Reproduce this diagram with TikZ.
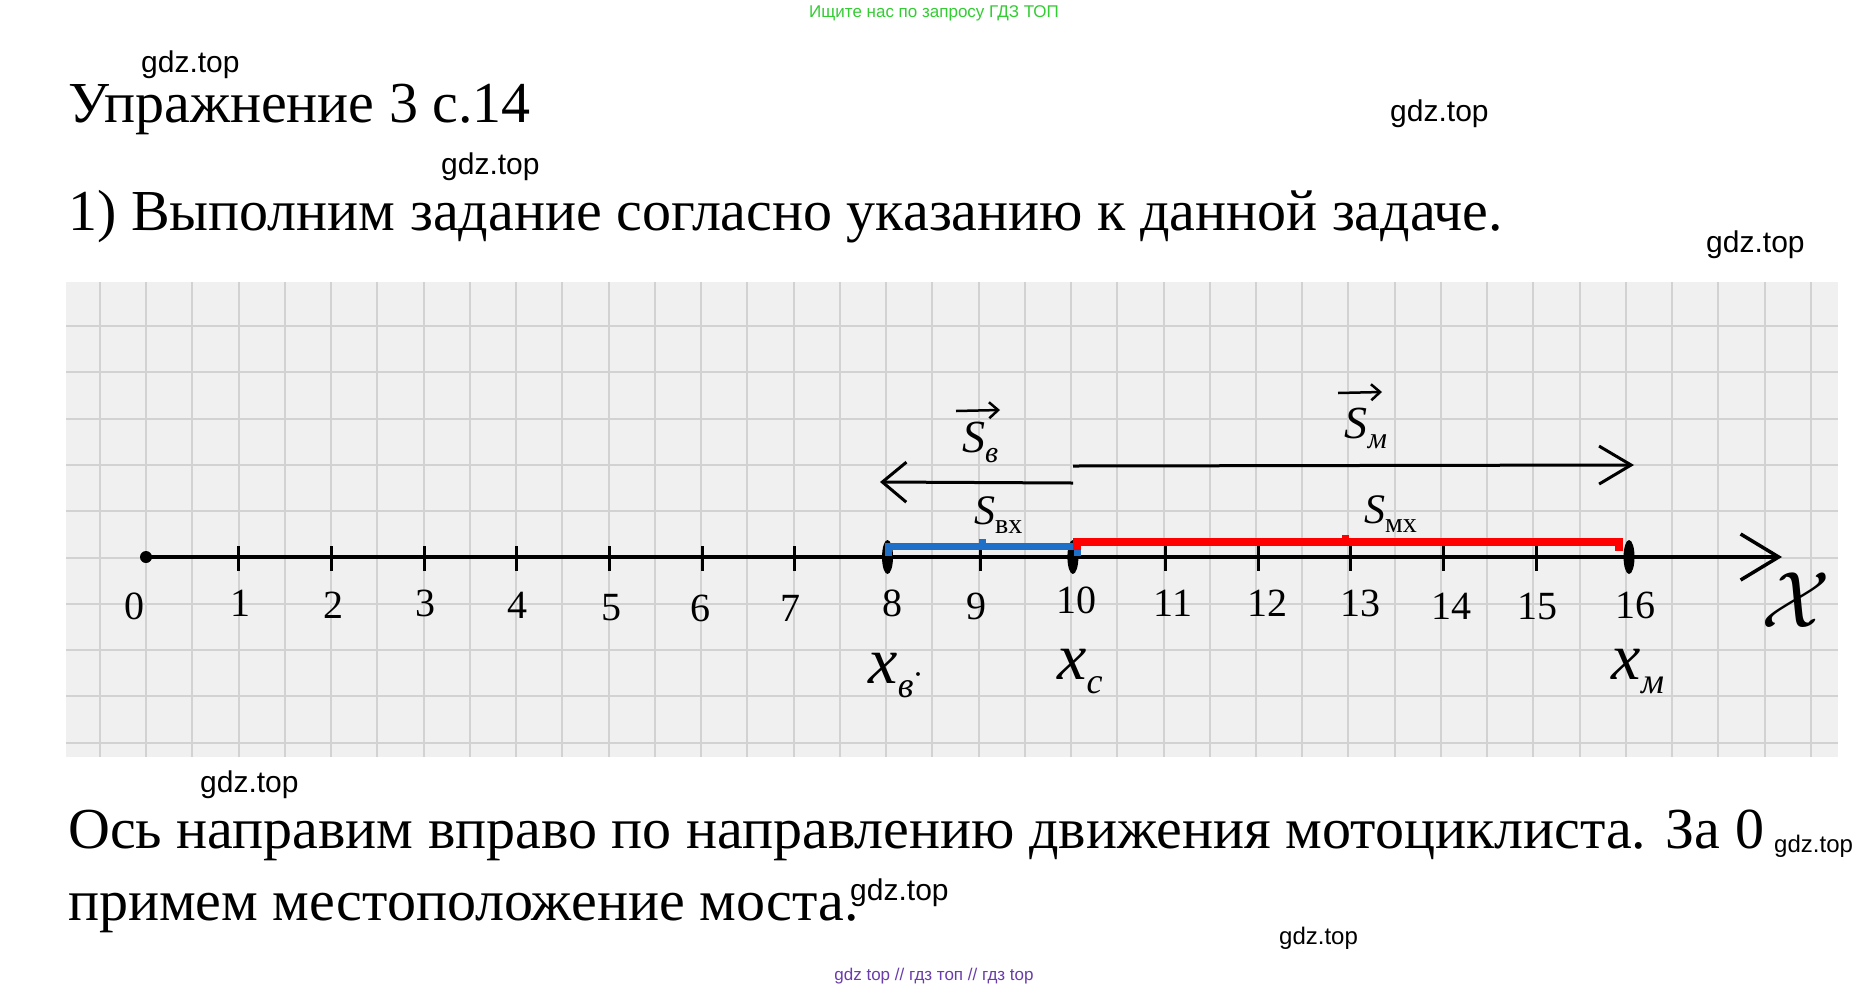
\RequirePackage{fix-cm}
\documentclass[tikz,border=0pt]{standalone}
\usepackage{fontspec}
\setmainfont{Liberation Serif}
\newfontfamily\wmfont{Liberation Sans}
\usetikzlibrary{arrows.meta}
\definecolor{paper}{HTML}{F0F0F0}
\definecolor{gridc}{HTML}{D2D2D2}
\definecolor{wmgreen}{HTML}{33CC33}
\definecolor{wmpurple}{HTML}{6A3DAA}
\definecolor{segblue}{HTML}{1E6FC8}
\definecolor{segred}{HTML}{FF0000}
\newcommand\fsz[1]{\fontsize{#1}{#1}\selectfont}
\begin{document}
\begin{tikzpicture}[x=1pt,y=-1pt,
  wm/.style={font=\wmfont\fsz{30}, anchor=base west, inner sep=0pt},
  wmsmall/.style={font=\wmfont\fsz{24}, anchor=base west, inner sep=0pt},
  body/.style={font=\fsz{58}, anchor=base west, inner sep=0pt},
  num/.style={font=\fsz{40}, inner sep=0pt},
  hand/.style={line width=3.5pt, black},
  vecarrow/.style={line width=2.5pt, -{Straight Barb[length=9pt,width=16pt,line width=2.5pt]}},
  gridline/.style={gridc, line width=2pt}]
\fill[white] (0,0) rectangle (1871,989);
\useasboundingbox (0,0) rectangle (1871,989);
% paper with grid
\fill[paper] (66,282) rectangle (1838,757);
\foreach \k in {0,...,37} \draw[gridline] ({100+46.24*\k},282) -- ({100+46.24*\k},757);
\foreach \k in {0,...,9} \draw[gridline] (66,{326+46.3*\k}) -- (1838,{326+46.3*\k});
% axis
\coordinate (o) at (146,557);
\coordinate (xend) at (1782,557);
\draw[hand, -{Straight Barb[length=38pt,width=46pt,line width=3.5pt]}] (o) -- (xend);
\fill (o) circle (6);
\foreach \k in {1,...,15} \draw[line width=3pt] ({146+92.69*\k},546) -- ({146+92.69*\k},571);
\foreach \k in {8,10,16} \fill ({146+92.69*\k},557) ellipse (5.5 and 17);
% numbers
\foreach \k/\xx/\yy in {0/134/606,1/240/603,2/333/605,3/425/603,4/517/605,5/611/608,6/700/608,7/790/608,8/892/603,9/976/606,10/1076/600,11/1173/603,12/1267/603,13/1360/603,14/1451/606,15/1537/606,16/1635/605}
  \node[num] (n\k) at (\xx,\yy) {\k};
% segments
\draw[segblue, line width=7pt] (888,556) -- (888,546) -- (1077,546) -- (1077,556);
\fill[segblue] (979,539) rectangle (986,546);
\draw[segred, line width=8pt] (1077,550) -- (1077,542) -- (1619,542) -- (1619,551);
\fill[segred] (1342,535) rectangle (1349,542);
% displacement vectors
\coordinate (va) at (1073,483);
\coordinate (vb) at (880,482);
\draw[line width=3pt, -{Straight Barb[length=24pt,width=40pt,line width=3pt]}] (va) -- (vb);
\coordinate (ma) at (1073,466);
\coordinate (mb) at (1634,465);
\draw[line width=3pt, -{Straight Barb[length=32pt,width=38pt,line width=3pt]}] (ma) -- (mb);
% labels
\node[font=\fsz{46}\itshape, inner sep=0pt] (sv) at (980,442) {S\raisebox{-10pt}{\fsz{30}в}};
\coordinate (sva) at (956,411);
\coordinate (svb) at (1000,410);
\draw[vecarrow] (sva) -- (svb);
\node[font=\fsz{46}\itshape, inner sep=0pt] (sm) at (1366,428) {S\raisebox{-10pt}{\fsz{30}м}};
\coordinate (sma) at (1338,393);
\coordinate (smb) at (1382,392);
\draw[vecarrow] (sma) -- (smb);
\node[anchor=base west, inner sep=0pt] (sbx) at (974,524) {\fsz{42}\itshape S\upshape\fsz{28}\raisebox{-9pt}{вх}};
\node[anchor=base west, inner sep=0pt] (smx) at (1364,523) {\fsz{42}\itshape S\upshape\fsz{28}\raisebox{-9pt}{мх}};
\node[font=\fsz{66}, inner sep=0pt] (xv) at (896,676) {\itshape x\raisebox{-14pt}{\fsz{36}в}\upshape\fsz{36}$\cdot$};
\node[font=\fsz{66}, inner sep=0pt] (xc) at (1080,672) {\itshape x\raisebox{-14pt}{\fsz{36}с}};
\node[font=\fsz{66}, inner sep=0pt] (xm) at (1638,672) {\itshape x\raisebox{-14pt}{\fsz{36}м}};
\node[font=\fsz{80}, inner sep=0pt] (xl) at (1796,600) {$\mathcal{X}$};
% texts
\node[font=\wmfont\fsz{17}, text=wmgreen, anchor=base, inner sep=0pt] (topwm) at (934,17) {Ищите нас по запросу ГДЗ ТОП};
\node[body] (title) at (68,122) {Упражнение 3 с.14};
\node[body] (line1) at (68,230) {1) Выполним задание согласно указанию к данной задаче.};
\node[body] (line2) at (68,848) {Ось направим вправо по направлению движения мотоциклиста. За 0};
\node[body] (line3) at (68,920) {примем местоположение моста.};
\node[wm] (wm1) at (141,72) {gdz.top};
\node[wm] (wm2) at (1390,121) {gdz.top};
\node[wm] (wm3) at (441,174) {gdz.top};
\node[wm] (wm4) at (1706,252) {gdz.top};
\node[wm] (wm5) at (200,792) {gdz.top};
\node[wmsmall] (wm6) at (1774,852) {gdz.top};
\node[wm] (wm7) at (850,900) {gdz.top};
\node[wmsmall] (wm8) at (1279,944) {gdz.top};
\node[font=\wmfont\fsz{17}, text=wmpurple, anchor=base, inner sep=0pt] (botwm) at (934,980) {gdz top // гдз топ // гдз top};
\end{tikzpicture}
\end{document}
